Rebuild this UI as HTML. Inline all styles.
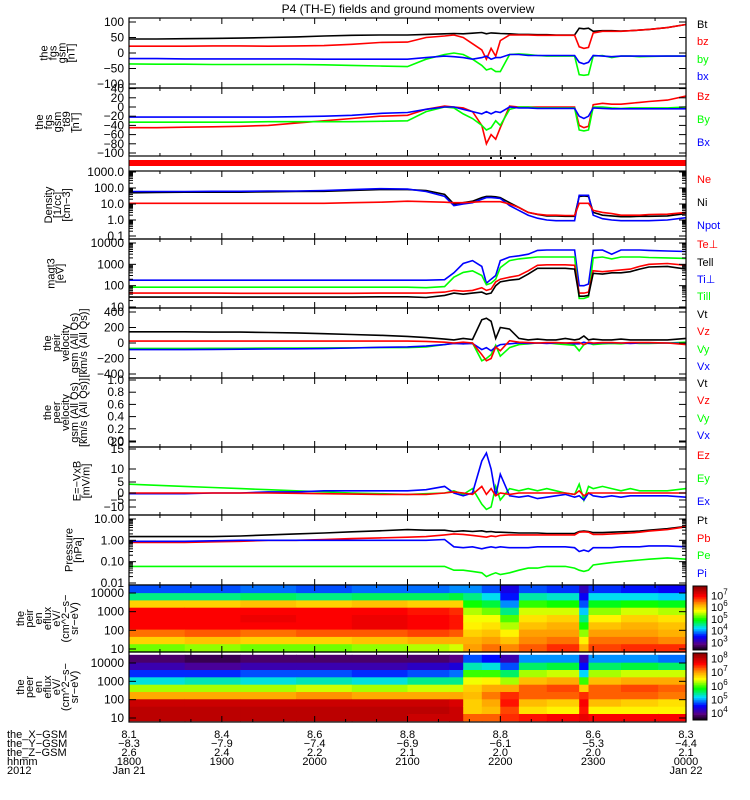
<!DOCTYPE html>
<html><head><meta charset="utf-8"><style>
html,body{margin:0;padding:0;background:#fff;}
svg{display:block;font-family:"Liberation Sans",sans-serif;}
</style></head><body>
<svg id="chart" width="750" height="800" viewBox="0 0 750 800" xmlns="http://www.w3.org/2000/svg">
<text x="408" y="13" text-anchor="middle" font-size="12">P4 (TH-E) fields and ground moments overview</text>
<g id="layer"></g>
</svg>
<script>
// ---- data ----
const times = [0,0.3,0.6,0.9,1.2,1.5,1.8,2.1,2.4,2.7,3.0,3.2,3.4,3.5,3.6,3.7,3.8,3.85,3.9,3.95,4.0,4.1,4.2,4.3,4.4,4.5,4.6,4.7,4.8,4.85,4.9,4.95,5.0,5.1,5.2,5.3,5.4,5.5,5.6,5.8,6.0];
const fgsBt = [45,45,46,47,48,50,52,55,57,58,58,60,62,63,62,64,66,62,65,64,63,62,60,60,59,59,58,58,58,80,78,80,70,72,72,71,72,74,76,82,92];
const fgsBz = [22,22,22,23,23,22,23,24,28,34,35,50,55,58,50,30,10,-20,15,-10,40,58,58,58,57,57,57,57,57,20,15,18,65,70,70,70,72,74,76,82,92];
const fgsBy = [-35,-36,-36,-37,-37,-37,-37,-38,-40,-42,-44,-20,-5,0,-5,-20,-40,-55,-50,-60,-60,-5,-3,-5,-8,-10,-10,-10,-10,-70,-72,-70,-10,-8,-15,-10,-10,-12,-11,-10,-10];
const fgsBx = [-18,-18,-19,-19,-19,-19,-19,-20,-20,-20,-20,-15,-10,-12,-15,-20,-15,-10,-20,-15,-15,-5,-5,-8,-8,-8,-8,-8,-8,-30,-35,-30,-8,-10,-12,-10,-10,-10,-10,-10,-10];
const t89Bz = [-45,-45,-44,-43,-42,-40,-35,-30,-25,-20,-18,-5,2,0,-2,-10,-40,-80,-60,-70,-45,2,0,0,0,0,0,0,0,-40,-45,-42,5,8,6,6,8,10,12,15,24];
const t89By = [-33,-33,-33,-33,-33,-32,-32,-32,-32,-31,-30,-10,0,-2,-15,-25,-40,-50,-45,-30,-40,-5,0,0,-2,-2,-2,-2,-2,-50,-52,-50,0,0,-2,-3,-2,-2,-2,-2,0];
const t89Bx = [-22,-22,-22,-22,-22,-22,-21,-20,-18,-14,-12,-5,0,0,-5,-10,-15,-10,-15,-10,-12,0,-2,-2,-3,-3,-3,-3,-3,-20,-25,-20,-2,-3,-4,-4,-4,-4,-4,-4,-4];
const densNe = [11,11,11,11,11,11,11,11,12,13,15,14,13,12,12,13,14,14,14,14,14,10,6,3,2.3,2,2,1.9,1.9,11,11,11,4,3,2.5,2,2,2,2.2,2.3,3];
const densNi = [50,52,55,55,55,58,60,62,70,80,80,70,40,10,12,15,25,30,30,28,25,12,6,3,2.2,1.8,1.8,1.7,1.7,30,32,30,3,2,1.8,1.6,1.6,1.7,1.7,1.8,2.5];
const densNpot = [60,60,60,62,62,65,65,70,80,90,85,60,30,8,10,12,20,25,25,24,22,8,4,2,1.3,1,0.9,0.9,0.9,35,35,35,2,1.2,1,0.9,0.9,0.9,0.9,1,1.4];
const tempTeperp = [45,45,45,45,44,44,44,44,44,45,45,45,50,60,55,60,80,60,70,150,200,250,300,500,900,950,950,950,900,45,45,50,500,450,500,550,600,800,1000,1100,900];
const tempTepar = [29,29,29,29,29,29,29,29,29,30,30,28,35,45,40,45,50,40,45,100,150,180,200,350,650,650,650,650,600,32,32,35,380,350,400,400,450,600,750,800,600];
const tempTiperp = [180,180,180,180,180,180,180,180,180,180,180,180,190,400,1100,1500,800,130,200,300,1500,2200,2500,3000,4500,4700,4700,4700,4700,100,100,120,4500,4700,3000,4700,4700,4700,4500,4200,4000];
const tempTipar = [85,85,85,85,85,85,85,85,85,85,85,80,90,250,420,500,300,110,130,200,700,1500,1800,2000,2200,2200,2200,2200,2200,25,25,30,2000,2200,1800,2200,2200,2200,2100,2000,1900];
const velVt = [145,145,145,140,140,135,130,120,110,100,85,70,50,40,60,45,300,320,280,60,200,180,60,40,50,40,40,60,40,50,90,40,50,40,40,50,40,40,40,40,60];
const velVz = [25,25,25,25,25,25,25,25,25,25,25,20,10,0,10,0,-150,-230,-200,-50,-100,30,10,5,0,5,5,0,5,5,-20,10,0,5,5,0,5,5,5,0,-20];
const velVy = [-70,-70,-70,-68,-68,-66,-65,-63,-62,-60,-60,-50,-20,0,-10,0,-230,-200,-150,-30,-170,-60,-20,-10,0,0,-10,-20,-30,-100,-20,0,-20,-10,-5,-10,0,-5,-5,0,10];
const velVx = [-85,-85,-85,-82,-80,-78,-75,-72,-65,-55,-50,-40,-20,-5,-10,-5,-85,-60,-100,-50,-20,-10,0,-5,0,-5,0,0,-10,-10,10,-5,-5,0,0,0,-5,0,0,0,-5];
const efEz = [0,0,0,0,0,0,-0.2,-0.5,-0.8,-1,-1,-1,0,0.5,0,-1,3,-1,2,-2,0,-1,0,0,0,0,0,0,-1,1,-2,0,0,0,0,0,0,0,0,0,0];
const efEy = [4,3.5,3,2.5,2,1.5,1,0.5,0,-0.5,-1,-0.5,0,1,-1,2,-8,-12,-10,3,-5,2,1,2,1,2,1,0,-1,4,-5,3,2,3,2,1,2,1,1,1,2];
const efEx = [-0.5,-0.5,-0.5,0,0,0.5,0.5,1,1,1,1,1.5,3,0,-2,0,12,14,10,-2,8,-2,-3,-2,-4,-3,-2,-1,-3,-2,-5,0,-2,-3,-2,-3,-2,-2,-2,-2,-3];
const presPt = [1.5,1.5,1.5,1.5,1.6,1.8,2.0,2.2,2.5,2.8,3.2,3.0,3.0,2.6,2.8,2.6,2.8,2.5,2.6,2.4,2.4,2.3,2.2,2.2,2.2,2.1,2.1,2.1,2.1,2.6,2.7,2.6,2.3,2.3,2.4,2.5,2.6,2.7,3.0,3.5,4.5];
const presPb = [0.8,0.8,0.8,0.85,0.9,1.0,1.0,1.1,1.2,1.3,1.4,1.5,1.8,2.0,1.9,1.7,1.5,1.4,1.6,1.5,1.7,1.8,1.8,1.8,1.8,1.8,1.8,1.8,1.8,2.4,2.5,2.4,1.9,1.9,2.0,2.1,2.2,2.4,2.7,3.2,4.3];
const presPe = [0.06,0.06,0.06,0.06,0.06,0.06,0.06,0.06,0.06,0.06,0.06,0.06,0.06,0.04,0.04,0.035,0.03,0.02,0.025,0.03,0.025,0.03,0.04,0.05,0.05,0.06,0.06,0.06,0.05,0.04,0.035,0.04,0.07,0.08,0.09,0.1,0.11,0.12,0.13,0.15,0.13];
const presPi = [0.9,0.9,0.9,0.95,1.0,1.0,1.0,1.0,1.0,1.0,1.0,1.0,1.1,0.5,0.45,0.5,0.4,0.45,0.5,0.45,0.5,0.45,0.45,0.45,0.5,0.5,0.5,0.5,0.45,0.3,0.35,0.3,0.45,0.45,0.45,0.5,0.5,0.5,0.55,0.55,0.5];
const specTimes = [0,0.6,1.2,1.8,2.4,3.0,3.45,3.6,3.8,4.0,4.2,4.5,4.85,4.95,5.3,5.7];
const peirFlux = [
[5.3,6.0,6.5,7.0,7.0,7.0,6.0,4.6,3.8],[5.4,6.1,6.6,7.0,7.0,7.0,6.0,4.6,3.8],[5.3,6.0,6.5,7.0,7.1,7.0,6.1,4.7,3.9],
[5.3,6.0,6.6,7.0,7.0,7.0,6.0,4.6,3.8],[5.4,6.1,6.6,7.1,7.1,7.0,6.1,4.7,3.9],[5.5,6.2,6.7,7.0,7.0,6.9,6.0,4.7,3.9],
[5.6,6.2,6.6,6.9,6.9,6.8,6.0,4.8,4.0],[6.3,6.2,6.0,5.8,5.7,5.5,5.0,4.6,4.0],[6.5,6.3,6.1,5.9,5.7,5.3,4.8,4.3,3.8],
[6.4,6.1,5.8,5.5,5.2,4.6,4.0,3.6,3.4],[6.6,6.4,6.3,6.1,5.9,5.6,5.1,4.5,3.8],[6.8,6.5,6.3,6.2,6.0,5.6,5.0,4.4,3.7],
[6.2,5.8,5.4,5.0,4.6,4.2,3.8,3.5,3.2],[6.7,6.5,6.3,6.1,5.8,5.4,4.9,4.3,3.7],[6.8,6.5,6.3,6.2,6.0,5.6,5.0,4.3,3.6],
[6.8,6.4,6.2,6.1,5.9,5.5,4.9,4.2,3.5]];
const peerFlux = [
[8.1,8.1,8.0,7.0,6.3,5.3,4.7,4.2,3.9],[8.1,8.1,8.0,7.0,6.3,5.4,4.7,4.1,3.8],[8.1,8.1,8.0,7.0,6.3,5.3,4.8,4.2,3.9],
[8.1,8.1,8.0,7.1,6.4,5.4,4.8,4.2,3.9],[8.1,8.1,8.0,7.0,6.3,5.3,4.7,4.2,3.9],[8.0,8.1,8.0,7.0,6.4,5.5,4.8,4.3,3.9],
[8.0,8.0,7.9,7.0,6.4,5.5,4.9,4.4,4.0],[7.3,6.8,6.8,6.9,6.8,6.5,6.0,5.4,4.8],[7.3,6.9,7.0,7.2,7.0,6.6,6.0,5.3,4.6],
[7.5,7.4,7.6,7.5,7.0,6.3,5.6,4.8,4.2],[7.6,6.7,6.9,7.3,7.3,6.9,6.3,5.6,5.0],[7.7,6.6,6.8,7.3,7.4,7.0,6.4,5.7,5.0],
[7.8,7.6,7.7,7.5,6.8,6.0,5.2,4.6,4.2],[7.7,6.6,6.9,7.3,7.3,6.9,6.3,5.6,5.0],[7.7,6.6,6.8,7.3,7.4,7.0,6.4,5.7,5.0],
[7.7,6.6,6.7,7.2,7.3,7.0,6.4,5.6,4.9]];
const hourLabels = ["1800","1900","2000","2100","2200","2300","0000"];
const xgsmLabels = ["8.1","8.4","8.6","8.8","8.8","8.6","8.3"];
const ygsmLabels = ["-8.3","-7.9","-7.4","-6.9","-6.1","-5.3","-4.4"];
const zgsmLabels = ["2.6","2.4","2.2","2.1","2.0","2.0","2.1"];

// ---- helpers ----
const NS="http://www.w3.org/2000/svg";
const layer=document.getElementById('layer');
const X0=129,X1=686;
const GREEN='#00ff00';
function xT(t){return X0+t/6*(X1-X0);}
function mk(tag,attrs,parent){const e=document.createElementNS(NS,tag);for(const k in attrs)e.setAttribute(k,attrs[k]);(parent||layer).appendChild(e);return e;}
function lin(v0,y0,v1,y1){return v=>y0+(v-v0)*(y1-y0)/(v1-v0);}
function logS(v0,y0,v1,y1){const a=Math.log10(v0),b=Math.log10(v1);return v=>y0+(Math.log10(Math.max(v,1e-9))-a)*(y1-y0)/(b-a);}
function pw(vals,ys){return v=>{for(let i=0;i<vals.length-1;i++){if(v<=vals[i+1]||i===vals.length-2){return ys[i]+(v-vals[i])*(ys[i+1]-ys[i])/(vals[i+1]-vals[i]);}}};}

const panels=[
 {id:'fgs',top:18,bot:88,y:lin(0,53,100,22),ticks:[100,50,0,-50,-100],tl:['100','50','0','−50','−100'],title:['the','fgs','gsm','[nT]'],tx:58,
  series:[['bt',fgsBt,'#000','Bt',24],['bz',fgsBz,'#f00','bz',41],['by',fgsBy,GREEN,'by',59],['bx',fgsBx,'#00f','bx',76]]},
 {id:'t89',top:88,bot:156,y:lin(0,107,-100,153),ticks:[40,20,0,-20,-40,-60,-80,-100],tl:['40','20','0','−20','−40','−60','−80','−100'],title:['the','fgs','gsm','_t89','[nT]'],tx:58,
  series:[['bz',t89Bz,'#f00','Bz',96],['by',t89By,GREEN,'By',119],['bx',t89Bx,'#00f','Bx',142]]},
 {id:'density',top:171,bot:239,y:logS(1000,172,0.1,236),ticks:[1000,100,10,1,0.1],tl:['1000.0','100.0','10.0','1.0','0.1'],title:['Density','[1/cc]','[cm−3]'],tx:58,log:true,
  series:[['ni',densNi,'#000','Ni',202],['npot',densNpot,'#00f','Npot',225],['ne',densNe,'#f00','Ne',179]]},
 {id:'temperature',top:239,bot:308,y:logS(10000,243,10,307),ticks:[10000,1000,100,10],tl:['10000','1000','100','10'],title:['magt3','[eV]'],tx:56,log:true,
  series:[['ti-perp',tempTiperp,'#00f','Ti⊥',279],['ti-par',tempTipar,GREEN,'Till',296],['te-perp',tempTeperp,'#f00','Te⊥',244],['te-par',tempTepar,'#000','Tell',262]]},
 {id:'peir-velocity',top:308,bot:378,y:lin(0,343,400,312),ticks:[400,200,0,-200,-400],tl:['400','200','0','−200','−400'],title:['the','peir','velocity','gsm (All Qs)','[km/s (All Qs)]'],tx:66,
  series:[['vt',velVt,'#000','Vt',314],['vy',velVy,GREEN,'Vy',349],['vx',velVx,'#00f','Vx',366],['vz',velVz,'#f00','Vz',331]]},
 {id:'peer-velocity',top:378,bot:447,y:lin(0,441,1,380),ticks:[1,0.8,0.6,0.4,0.2,0],tl:['1.0','0.8','0.6','0.4','0.2','0.0'],title:['the','peer','velocity','gsm (All Qs)','[km/s (All Qs)]'],tx:66,
  series:[],legend:[['Vt','#000',383],['Vz','#f00',400],['Vy',GREEN,418],['Vx','#00f',435]]},
 {id:'efield',top:447,bot:515,y:pw([-15,-10,-5,0,5,10,15,20],[513,507,500,493,482,469,449,442]),ticks:[20,15,10,5,0,-5,-10],tl:['20','15','10','5','0','−5','−10'],title:['E=−VxB','[mV/m]'],tx:82,
  series:[['ey',efEy,GREEN,'Ey',478],['ex',efEx,'#00f','Ex',501],['ez',efEz,'#f00','Ez',455]]},
 {id:'pressure',top:515,bot:585,y:logS(10,519,0.01,583),ticks:[10,1,0.1,0.01],tl:['10.00','1.00','0.10','0.01'],title:['Pressure','[nPa]'],tx:74,log:true,
  series:[['pt',presPt,'#000','Pt',520],['pb',presPb,'#f00','Pb',538],['pe',presPe,GREEN,'Pe',555],['pi',presPi,'#00f','Pi',573]]}
];

function axisTitle(lines,cx,cy,name,fs){
  const g=mk('g',{});
  
  
  const lh=fs*0.82;const n=lines.length;
  lines.forEach((s,i)=>{
    const xx=cx+(i-(n-1)/2)*lh;
    const t=mk('text',{x:xx,y:cy,'font-size':fs,'text-anchor':'middle',transform:`rotate(-90 ${xx} ${cy})`,'dominant-baseline':'central'},g);
    t.textContent=s;
  });
}

function frame(top,bot,name){
  const r=mk('rect',{x:X0,y:top,width:X1-X0,height:bot-top,fill:'none',stroke:'#000','stroke-width':1.2});
  
  
  for(let k=1;k<18;k++){
    const x=xT(k/3),len=(k%3===0)?6:3;
    mk('line',{x1:x,y1:top,x2:x,y2:top+len,stroke:'#000'});
    mk('line',{x1:x,y1:bot,x2:x,y2:bot-len,stroke:'#000'});
  }
}

panels.forEach(p=>{
  const cid='clip-'+p.id;
  const cp=mk('clipPath',{id:cid});
  mk('rect',{x:X0,y:p.top,width:X1-X0,height:p.bot-p.top},cp);
  const g=mk('g',{'clip-path':`url(#${cid})`});
  
  
  p.series.forEach(s=>{
    const vals=s[1];let d='';
    times.forEach((t,i)=>{d+=(i?'L':'M')+xT(t).toFixed(1)+','+p.y(vals[i]).toFixed(1);});
    const path=mk('path',{d:d,fill:'none',stroke:s[2],'stroke-width':1.6},g);
    
    
  });
  frame(p.top,p.bot,p.id+'-frame');
  p.ticks.forEach((v,i)=>{
    const y=p.y(v);
    mk('line',{x1:X0,y1:y,x2:X0+7,y2:y,stroke:'#000'});
    mk('line',{x1:X1,y1:y,x2:X1-7,y2:y,stroke:'#000'});
    const t=mk('text',{x:124,y:y+4,'font-size':12,'text-anchor':'end'});
    
    
    t.textContent=p.tl[i];
    if(p.log&&i<p.ticks.length-1){
      for(let m=2;m<10;m++){const yy=p.y(p.ticks[i+1]*m);
        mk('line',{x1:X0,y1:yy,x2:X0+4,y2:yy,stroke:'#000'});mk('line',{x1:X1,y1:yy,x2:X1-4,y2:yy,stroke:'#000'});}
    }
  });
  axisTitle(p.title,p.tx,(p.top+p.bot)/2,p.id+'-y-axis-title',11);
  const leg=p.legend||p.series.map(s=>[s[3],s[2],s[4]]);
  leg.forEach(l=>{
    const t=mk('text',{x:697,y:l[2]+4,'font-size':11,fill:l[1]});
    
    
    t.textContent=l[0];
  });
});

// red status bar panel
const bar=mk('rect',{x:X0,y:160,width:X1-X0,height:6,fill:'#f00'});


mk('line',{x1:X0,y1:156,x2:X0,y2:171,stroke:'#000'});
mk('line',{x1:X1,y1:156,x2:X1,y2:171,stroke:'#000'});
[490,500,514].forEach(x=>mk('rect',{x:x,y:157,width:2,height:2,fill:'#000'}));

// colormap
const stops=[[0,[0,0,0]],[0.1,[90,0,130]],[0.22,[0,0,255]],[0.35,[0,220,255]],[0.48,[0,255,0]],[0.62,[255,255,0]],[0.72,[255,165,0]],[0.85,[255,0,0]],[1,[140,0,0]]];
function cmap(p){p=Math.max(0,Math.min(1,p));for(let i=0;i<stops.length-1;i++){const a=stops[i],b=stops[i+1];if(p<=b[0]){const f=(p-a[0])/(b[0]-a[0]);const c=a[1].map((v,k)=>Math.round(v+(b[1][k]-v)*f));return `rgb(${c[0]},${c[1]},${c[2]})`;}}return 'rgb(140,0,0)';}

const specs=[
 {id:'peir-spectrogram',top:585,bot:652,yE:logS(10000,593,10,649),eLo:0.9,eHi:4.42,cLo:2.35,cHi:7.8,flux:peirFlux,
  title:['the','peir','en','eflux','eV/','(cm^2−s−','sr−eV)'],cb:[[3,'3'],[4,'4'],[5,'5'],[6,'6'],[7,'7']]},
 {id:'peer-spectrogram',top:652,bot:722,yE:logS(10000,663,10,718),eLo:0.85,eHi:4.45,cLo:3.5,cHi:8.4,flux:peerFlux,
  title:['the','peer','en','eflux','eV/','(cm^2−s−','sr−eV)'],cb:[[4,'4'],[5,'5'],[6,'6'],[7,'7'],[8,'8']]}
];
specs.forEach(s=>{
  const g=mk('g',{});
  
  
  const nb=s.flux[0].length,de=(s.eHi-s.eLo)/nb;
  specTimes.forEach((t,i)=>{
    const t2=i<specTimes.length-1?specTimes[i+1]:6;
    const x=xT(t),w=xT(t2)-x;
    s.flux[i].forEach((f,j)=>{
      const ya=s.yE(Math.pow(10,s.eLo+j*de)),yb=s.yE(Math.pow(10,s.eLo+(j+1)*de));
      const c=mk('rect',{x:x.toFixed(1),y:Math.max(s.top,yb).toFixed(1),width:(w+0.6).toFixed(1),height:(Math.min(s.bot,ya)-Math.max(s.top,yb)+0.6).toFixed(1),fill:cmap((f-s.cLo)/(s.cHi-s.cLo))},g);
      
      
    });
  });
  frame(s.top,s.bot,s.id+'-frame');
  [10000,1000,100,10].forEach((v,i)=>{
    const y=s.yE(v);
    mk('line',{x1:X0,y1:y,x2:X0+7,y2:y,stroke:'#000'});
    mk('line',{x1:X1,y1:y,x2:X1-7,y2:y,stroke:'#000'});
    const t=mk('text',{x:124,y:y+4,'font-size':12,'text-anchor':'end'});
    
    
    t.textContent=String(v);
  });
  axisTitle(s.title,48,(s.top+s.bot)/2,s.id+'-y-axis-title',11);
  const cb=mk('g',{});
  
  
  const cbT=s.top+1,cbB=s.bot-2;
  for(let k=0;k<40;k++){const y=cbT+k*(cbB-cbT)/40;mk('rect',{x:693,y:y,width:14,height:(cbB-cbT)/40+0.5,fill:cmap(1-k/40)},cb);}
  mk('rect',{x:693,y:cbT,width:14,height:cbB-cbT,fill:'none',stroke:'#000'},cb);
  s.cb.forEach(c=>{
    const y=cbB-(c[0]-s.cLo)/(s.cHi-s.cLo)*(cbB-cbT);
    const t=mk('text',{x:711,y:y+4,'font-size':11},cb);
    t.textContent='10';
    const sp=mk('tspan',{dy:-5,'font-size':8},t);sp.textContent=c[1];
  });
});

// bottom annotation
const rowsY=[738,747,756,765,774];
const rowNames=['the_X−GSM','the_Y−GSM','the_Z−GSM','hhmm','2012'];
rowNames.forEach((n,i)=>{const t=mk('text',{x:7,y:rowsY[i],'font-size':11});
  
  
  t.textContent=n;});
const rowsData=[xgsmLabels,ygsmLabels,zgsmLabels,hourLabels];
hourLabels.forEach((h,k)=>{
  const x=xT(k);
  rowsData.forEach((arr,r)=>{const t=mk('text',{x:x,y:rowsY[r],'font-size':11,'text-anchor':'middle'});
    
    
    t.textContent=arr[k].replace('-','−');});
});
[['Jan 21',0],['Jan 22',6]].forEach(d=>{const t=mk('text',{x:xT(d[1]),y:rowsY[4],'font-size':11,'text-anchor':'middle'});
  
  
  t.textContent=d[0];});
</script>
</body></html>
